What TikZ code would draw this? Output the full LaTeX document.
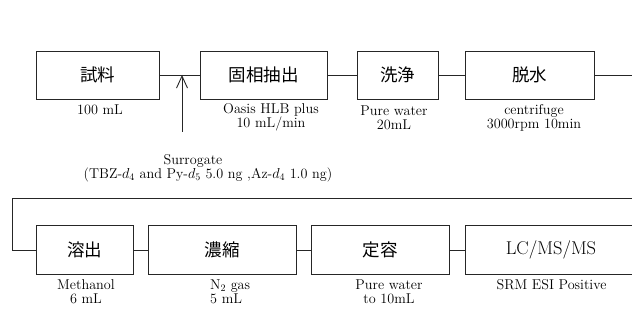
\documentclass[tikz,border=0pt]{standalone}
\usepackage{fontspec}
\newfontfamily\jp{Noto Sans CJK JP}
\usetikzlibrary{arrows.meta}
\begin{document}
\begin{tikzpicture}[x=1pt,y=-1pt,
  box/.style={draw=black!85, line width=0.9pt, inner sep=0pt, font=\jp\fontsize{17.5}{20}\selectfont},
  lcbox/.style={draw=black!85, line width=0.9pt, inner sep=0pt, font=\fontsize{18.5}{20}\selectfont},
  lbl/.style={font=\fontsize{14.2}{14}\selectfont, align=center, inner sep=0pt},
  conn/.style={draw=black!85, line width=0.9pt}]
\useasboundingbox (0,0) rectangle (632,336);
\fill[white] (0,0) rectangle (632,336);
% top row
\node[box, minimum width=123pt, minimum height=48pt] (s1) at (97.5,75) {試料};
\node[box, minimum width=127pt, minimum height=48pt] (s2) at (263.5,75) {固相抽出};
\node[box, minimum width=81pt, minimum height=48pt] (s3) at (397.5,75) {洗浄};
\node[box, minimum width=129pt, minimum height=48pt] (s4) at (529.5,75) {脱水};
% bottom row
\node[box, minimum width=97pt, minimum height=49pt] (b1) at (84.5,250) {溶出};
\node[box, minimum width=148pt, minimum height=49pt] (b2) at (222,250) {濃縮};
\node[box, minimum width=138pt, minimum height=49pt] (b3) at (380,250) {定容};
\node[lcbox, minimum width=172pt, minimum height=49pt] (b4) at (551,250) {LC/MS/MS};
% labels
\node[lbl] (l1) at (100,110) {100 mL};
\node[lbl] (l2) at (271,117) {Oasis HLB plus\\10 mL/min};
\node[lbl] (l3) at (394,117.5) {Pure water\\20mL};
\node[lbl] (l4) at (534,117.5) {centrifuge\\3000rpm 10min};
\node[lbl] (surr) at (208,168.5) {\hspace*{-30pt}Surrogate\\(TBZ-$d_4$ and Py-$d_5$ 5.0 ng ,Az-$d_4$ 1.0 ng)};
\node[lbl] (l5) at (86,292) {Methanol\\6 mL};
\node[lbl, align=left, anchor=west] (l6) at (210,292) {N$_2$ gas\\5 mL};
\node[lbl] (l7) at (389,292) {Pure water\\to 10mL};
\node[lbl] (l8) at (551.5,285) {SRM ESI Positive};
% connectors
\coordinate (tip) at (182,75);
\coordinate (tail) at (182,132);
\coordinate (e1) at (640,75);
\coordinate (e2) at (640,198);
\coordinate (cl) at (12.7,198);
\path[conn] (s1.east) -- (s2.west);
\path[conn] (s2.east) -- (s3.west);
\path[conn] (s3.east) -- (s4.west);
\path[conn] (s4.east) -- (e1);
\path[conn] (e2) -- (cl) |- (b1.west);
\path[conn] (b1.east) -- (b2.west);
\path[conn] (b2.east) -- (b3.west);
\path[conn] (b3.east) -- (b4.west);
\path[conn, -{Straight Barb[length=12pt,width=11pt,line width=0.9pt]}] (tail) -- (tip);
\end{tikzpicture}
\end{document}
